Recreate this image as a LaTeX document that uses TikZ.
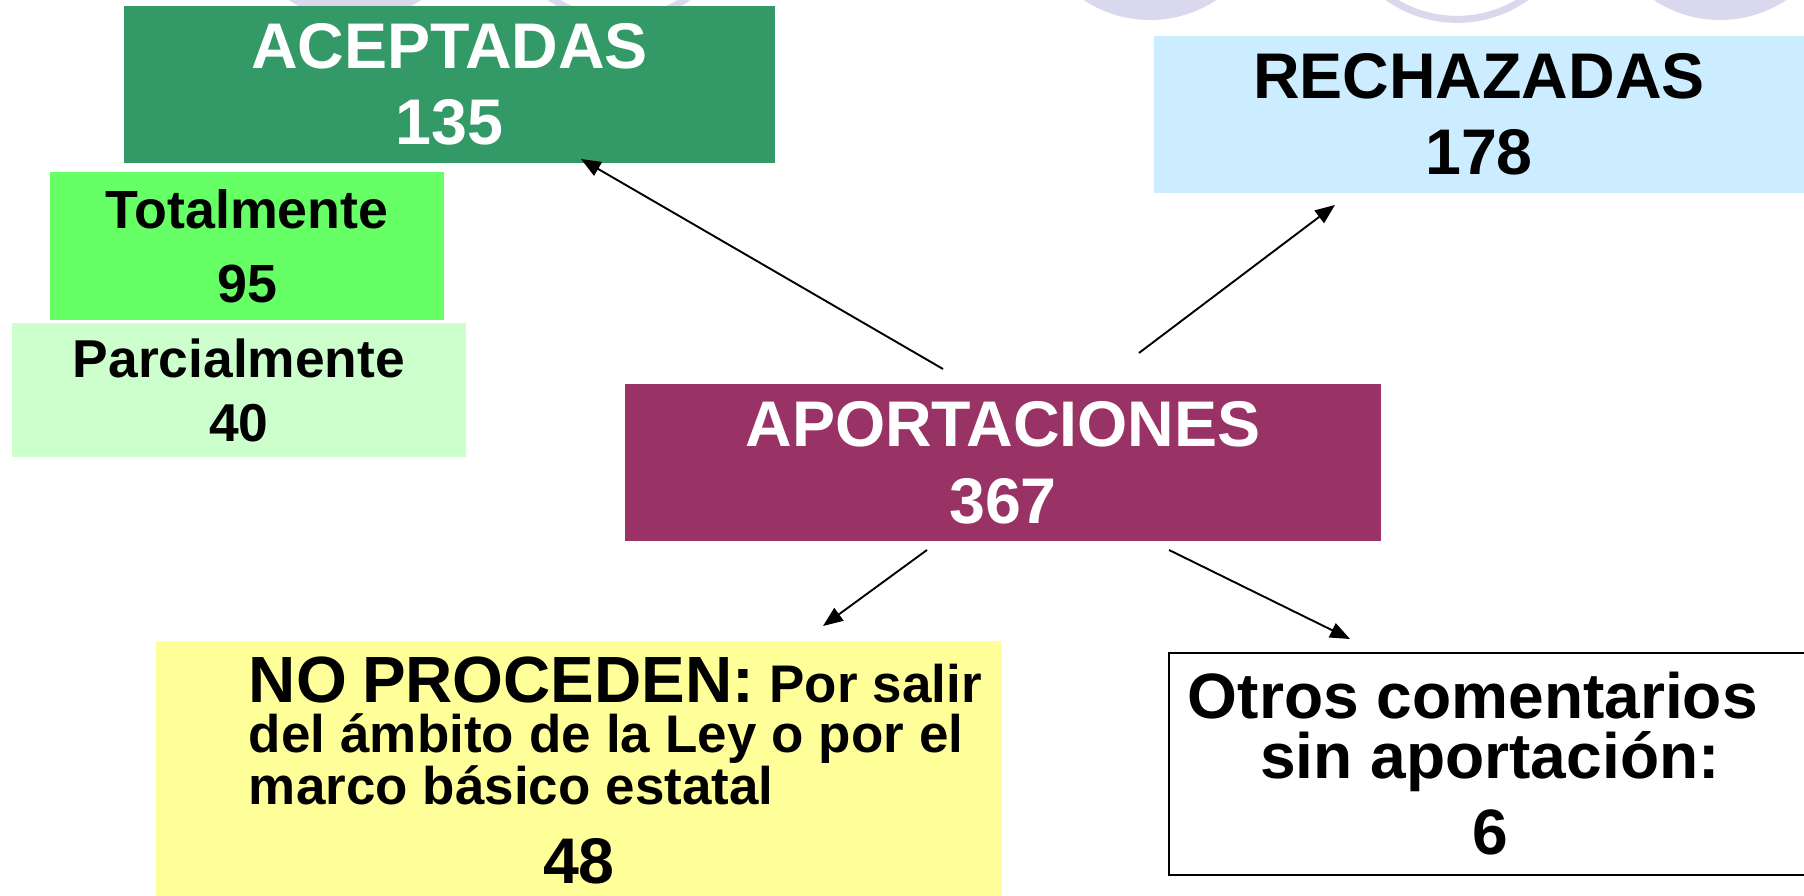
\documentclass[tikz,border=0pt]{standalone}
\usepackage{fontspec}
\setmainfont{Liberation Sans}
\usetikzlibrary{arrows.meta}

\definecolor{verdeosc}{RGB}{51,153,102}
\definecolor{verdeclaro}{RGB}{102,255,102}
\definecolor{verdepalido}{RGB}{204,255,204}
\definecolor{celeste}{RGB}{204,236,255}
\definecolor{granate}{RGB}{153,51,102}
\definecolor{amarillo}{RGB}{255,255,153}
\definecolor{lavanda}{RGB}{218,216,236}

\newcommand{\grande}{\fontsize{30.6}{35.8}\selectfont\bfseries}
\newcommand{\mediana}{\fontsize{25.5}{35.1}\selectfont\bfseries}

\begin{document}
\begin{tikzpicture}[
  caja/.style={rectangle, inner sep=0pt, align=center, draw=none},
  flecha/.style={-{Triangle[length=0.33cm,width=0.26cm]}, line width=0.9pt}
]
\clip (0,0) rectangle (30.067,14.933);
\fill[white] (0,0) rectangle (30.067,14.933);
% circulos del fondo
\fill[lavanda] (5.917,16.6) circle (2);
\draw[lavanda,line width=0.117cm] (10.317,16.6) circle (1.99);
\fill[lavanda] (19.167,16.6) circle (2);
\draw[lavanda,line width=0.117cm] (24.283,16.6) circle (1.99);
\fill[lavanda] (28.667,16.6) circle (2);

\node[caja,fill=verdeosc,text=white,minimum width=10.85cm,minimum height=2.617cm,font=\grande] (acep) at (7.492,13.525) {ACEPTADAS\\135};
\node[caja,fill=celeste,minimum width=10.833cm,minimum height=2.617cm,font=\grande] (rech) at (24.65,13.025) {RECHAZADAS\\178};
\node[caja,fill=verdeclaro,minimum width=6.567cm,minimum height=2.467cm,font=\mediana] (total) at (4.117,10.833) {Totalmente\\95};
\node[caja,fill=verdepalido,minimum width=7.567cm,minimum height=2.233cm,font=\fontsize{25.3}{30.4}\selectfont\bfseries] (parc) at (3.983,8.433) {Parcialmente\\40};
\node[caja,fill=granate,text=white,minimum width=12.6cm,minimum height=2.617cm,font=\fontsize{30.6}{36.5}\selectfont\bfseries] (apor) at (16.717,7.225) {APORTACIONES\\367};
\node[caja,fill=amarillo,minimum width=14.1cm,minimum height=4.317cm,text width=14.1cm,align=left,font=\fontsize{25.1}{23.5}\selectfont\bfseries] (noproc) at (9.65,2.092)
  {\leftskip=1.55cm \spaceskip=0.285em {\fontsize{31}{23.5}\selectfont NO PROCEDEN:} Por salir\\del ámbito de la Ley o por el\\marco básico estatal\par
  {\leftskip=0pt\centering\fontsize{30.6}{37.5}\selectfont 48\par}};
\node[caja,draw=black,line width=0.95pt,fill=white,minimum width=10.7cm,minimum height=3.7cm,font=\fontsize{30.4}{28.5}\selectfont\bfseries] (otros) at (24.833,2.2) {Otros comentarios\hspace*{0.57cm}\\sin aportación:\\[7.5pt]6};

% flechas
\coordinate (s1) at (15.717,8.783); \coordinate (t1) at (9.683,12.283);
\coordinate (s2) at (18.983,9.05);  \coordinate (t2) at (22.25,11.517);
\coordinate (s3) at (15.45,5.767);  \coordinate (t3) at (13.717,4.5);
\coordinate (s4) at (19.483,5.767); \coordinate (t4) at (22.5,4.283);
\draw[flecha] (s1) -- (t1);
\draw[flecha] (s2) -- (t2);
\draw[flecha] (s3) -- (t3);
\draw[flecha] (s4) -- (t4);

\end{tikzpicture}
\end{document}
